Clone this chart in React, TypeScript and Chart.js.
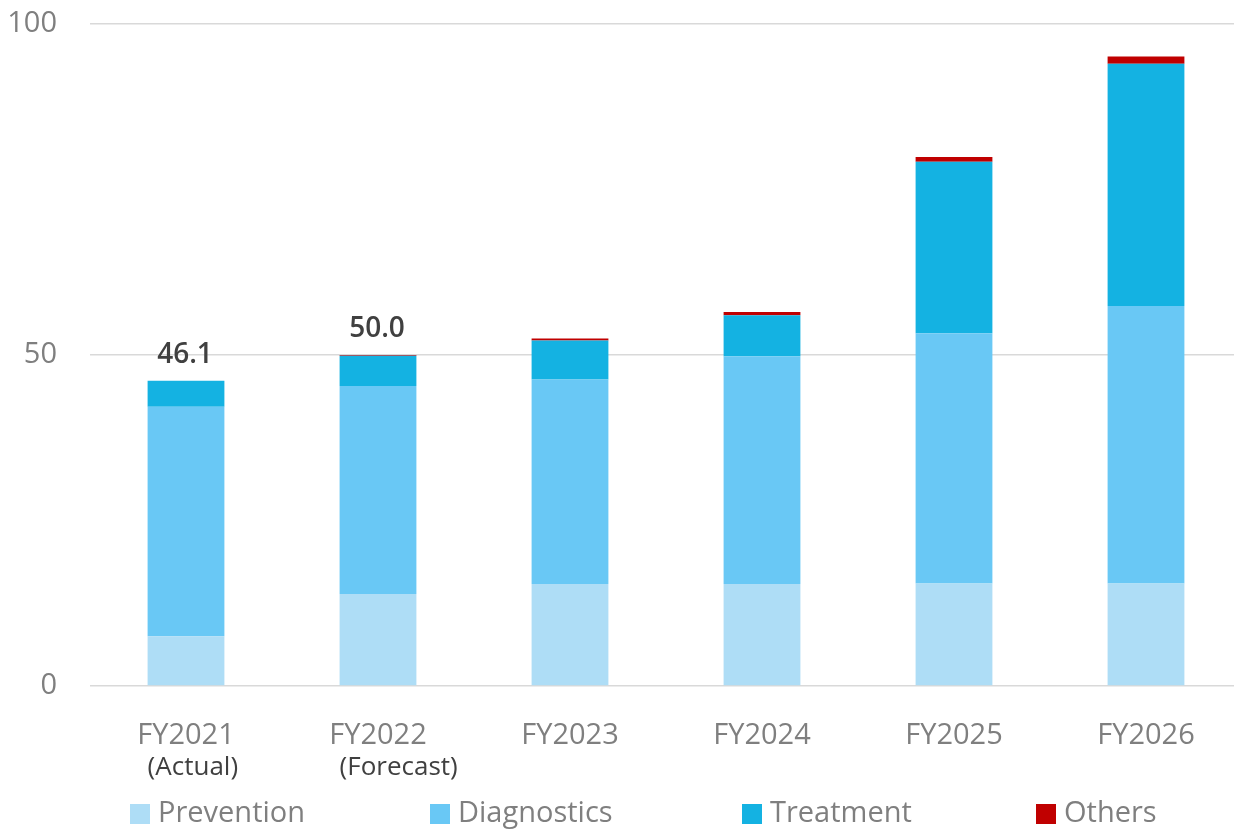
import React, { useEffect, useRef } from "react";
import { Chart, registerables } from "chart.js";

Chart.register(...registerables);

const categories = ["FY2021", "FY2022", "FY2023", "FY2024", "FY2025", "FY2026"];
const subLabels = ["(Actual)", "(Forecast)", "", "", "", ""];
const prevention = [7.5, 13.9, 15.4, 15.4, 15.5, 15.5];
const diagnostics = [34.7, 31.4, 30.9, 34.4, 37.8, 41.9];
const treatment = [3.9, 4.6, 5.9, 6.2, 25.9, 36.6];
const others = [0, 0.1, 0.3, 0.5, 0.7, 1.1];
const totalLabels = ["46.1", "50.0", "", "", "", ""];
const yTicks = [0, 50, 100];
const seriesNames = ["Prevention", "Diagnostics", "Treatment", "Others"];
const seriesColors = ["#AEDDF6", "#69C8F5", "#14B2E2", "#C00000"];

const FONT = "'Open Sans', 'Noto Sans', sans-serif";
const legendX = [130, 430, 742, 1036];

const annotatePlugin = {
  id: "annotate",
  afterDraw(chart: any) {
    const ctx = chart.ctx;
    const xs = chart.scales.x;
    const ys = chart.scales.y;
    const area = chart.chartArea;
    ctx.save();
    // totals above first bars
    ctx.font = `600 28px ${FONT}`;
    ctx.fillStyle = "#404040";
    ctx.textAlign = "center";
    ctx.textBaseline = "alphabetic";
    categories.forEach((_, i) => {
      if (!totalLabels[i]) return;
      const total = prevention[i] + diagnostics[i] + treatment[i] + others[i];
      ctx.fillText(totalLabels[i], xs.getPixelForValue(i) - 1, ys.getPixelForValue(total) - 18);
    });
    // sub labels under category names
    ctx.font = `26px ${FONT}`;
    ctx.textAlign = "left";
    ctx.textBaseline = "middle";
    subLabels.forEach((s, i) => {
      if (!s) return;
      const w = xs.width / categories.length;
      ctx.fillText(s, xs.getPixelForValue(i) - w * 0.2, area.bottom + 82);
    });
    // legend
    ctx.font = `29px ${FONT}`;
    const ly = area.bottom + 128;
    seriesNames.forEach((name, i) => {
      const lx = legendX[i];
      ctx.fillStyle = seriesColors[i];
      ctx.fillRect(lx, ly - 10, 20, 20);
      ctx.fillStyle = "#7F7F7F";
      ctx.fillText(name, lx + 28, ly);
    });
    ctx.restore();
  },
};

export default function App() {
  const ref = useRef<HTMLCanvasElement | null>(null);

  useEffect(() => {
    document.body.style.margin = "0";
    document.body.style.overflow = "hidden";
    const canvas = ref.current;
    if (!canvas) return;
    const seriesData = [prevention, diagnostics, treatment, others];
    const chart = new Chart(canvas, {
      type: "bar",
      data: {
        labels: categories,
        datasets: seriesNames.map((name, i) => ({
          label: name,
          data: seriesData[i],
          backgroundColor: seriesColors[i],
          borderWidth: 0,
          barPercentage: 0.4,
          categoryPercentage: 1,
        })),
      },
      options: {
        responsive: false,
        animation: false,
        layout: { padding: { top: 24, left: 0, right: 0, bottom: 0 } },
        plugins: {
          legend: { display: false },
          tooltip: { enabled: false },
        },
        scales: {
          x: {
            stacked: true,
            grid: { display: false },
            border: { display: false },
            ticks: {
              color: "#7F7F7F",
              font: { family: FONT, size: 29 },
              padding: 24,
              maxRotation: 0,
            },
            afterFit: (s: any) => {
              s.height = 146;
              s.paddingLeft = 0;
              s.paddingRight = 0;
            },
          },
          y: {
            stacked: true,
            min: 0,
            max: 100,
            afterBuildTicks: (s: any) => {
              s.ticks = yTicks.map((v) => ({ value: v }));
            },
            grid: { color: "#D9D9D9", lineWidth: 1.5, drawTicks: false },
            border: { display: false },
            ticks: {
              color: "#7F7F7F",
              font: { family: FONT, size: 29 },
              padding: 33,
            },
            afterFit: (s: any) => {
              s.width = 90;
              s.paddingTop = 0;
              s.paddingBottom = 0;
            },
          },
        },
      },
      plugins: [annotatePlugin],
    });
    return () => chart.destroy();
  }, []);

  return (
    <div style={{ position: "absolute", left: 0, top: 0, width: 1234, height: 832, overflow: "hidden", background: "#fff" }}>
      <canvas ref={ref} width={1242} height={832} />
    </div>
  );
}
